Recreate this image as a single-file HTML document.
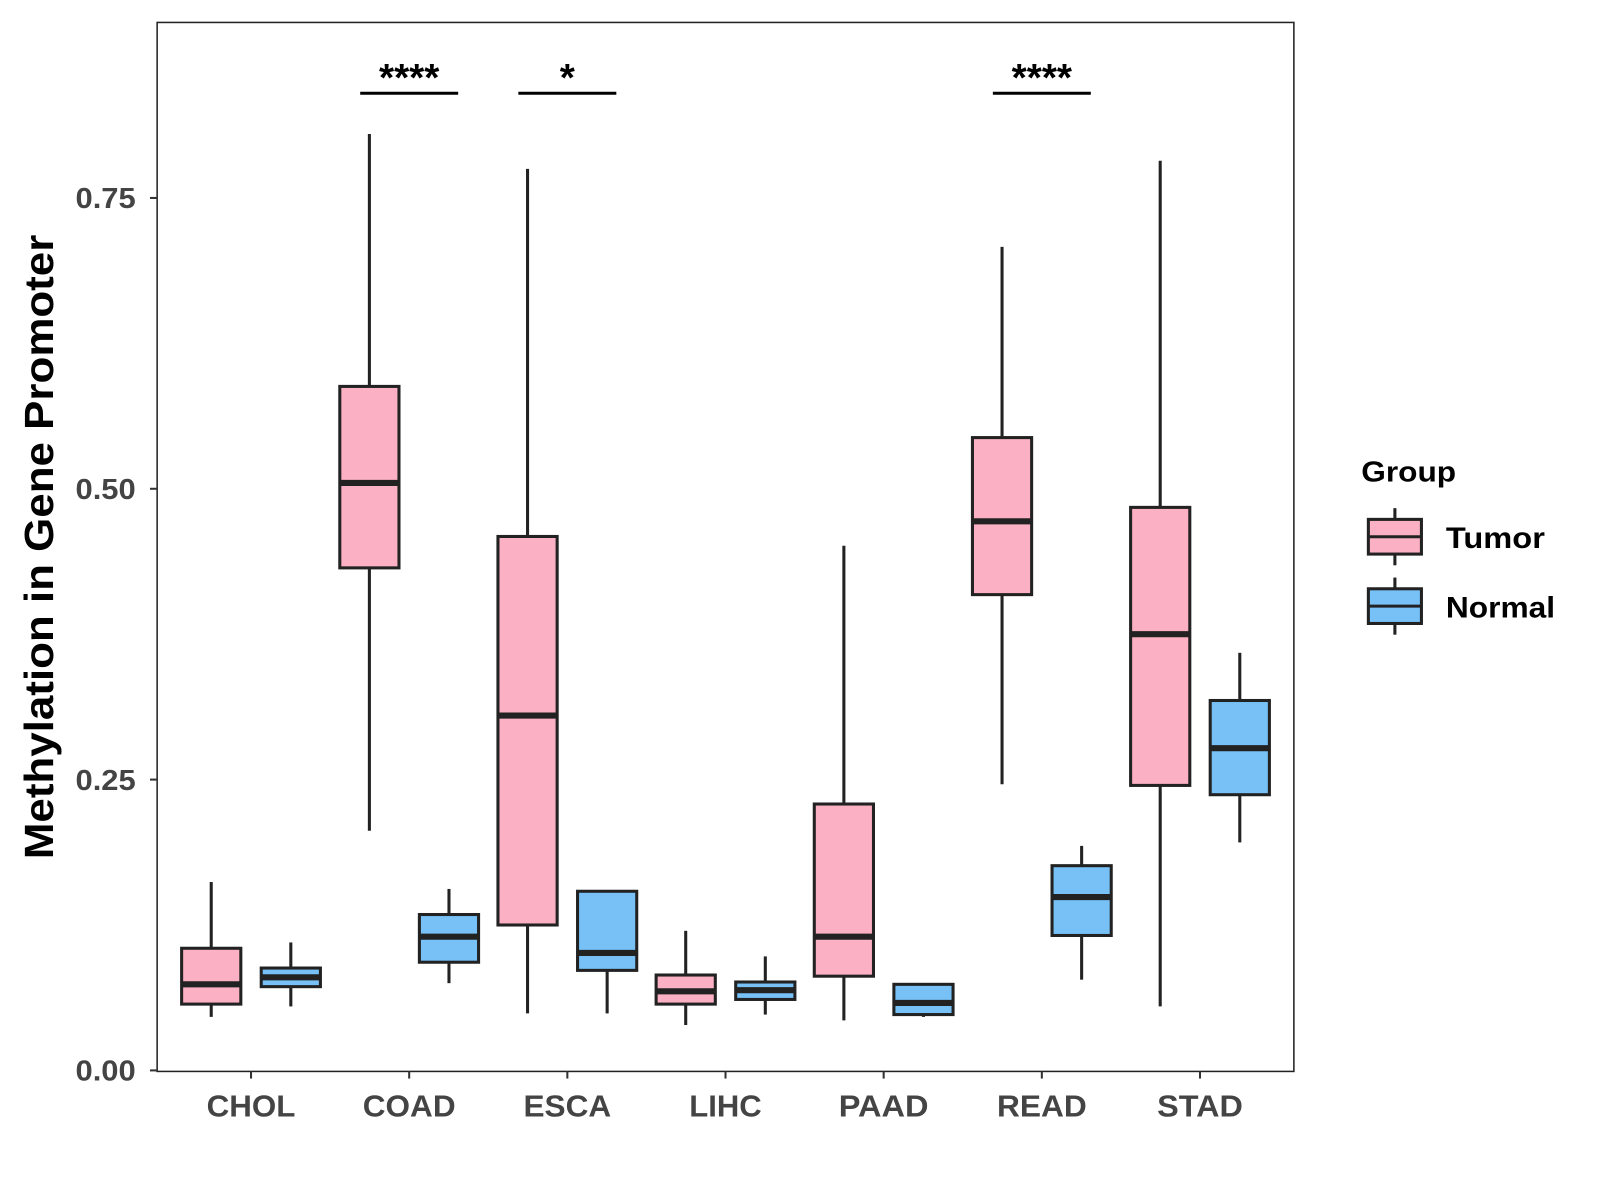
<!DOCTYPE html>
<html><head><meta charset="utf-8"><style>
html,body{margin:0;padding:0;background:#fff;}
svg{display:block;font-family:"Liberation Sans",Arial,sans-serif;}
</style></head><body>
<svg id="chart" width="1600" height="1200" viewBox="0 0 1568 1176">
<rect x="0" y="0" width="1568" height="1176" fill="#fff"/>
<g id="plot"></g>
</svg>
<script>
const categories = ["CHOL","COAD","ESCA","LIHC","PAAD","READ","STAD"];
const groups = ["Tumor","Normal"];
// [low, q1, median, q3, high]
const tumorStats = [
 [0.046,0.057,0.074,0.105,0.162],
 [0.206,0.432,0.505,0.588,0.805],
 [0.049,0.125,0.305,0.459,0.775],
 [0.039,0.057,0.068,0.082,0.120],
 [0.043,0.081,0.115,0.229,0.451],
 [0.246,0.409,0.472,0.544,0.708],
 [0.055,0.245,0.375,0.484,0.782]
];
const normalStats = [
 [0.055,0.072,0.080,0.088,0.110],
 [0.075,0.093,0.115,0.134,0.156],
 [0.049,0.086,0.101,0.154,0.154],
 [0.048,0.061,0.069,0.076,0.098],
 [0.046,0.048,0.058,0.074,0.074],
 [0.078,0.116,0.149,0.176,0.193],
 [0.196,0.237,0.277,0.318,0.359]
];
const yTicks = [0,0.25,0.5,0.75];
const yTickLabels = ["0.00","0.25","0.50","0.75"];
const sigCategories = ["COAD","ESCA","READ"];
const sigLabels = ["****","*","****"];
const sigLevel = 0.840;

const NS="http://www.w3.org/2000/svg";
const g=document.getElementById('plot');
function el(t,a,txt){const e=document.createElementNS(NS,t);for(const k in a)e.setAttribute(k,a[k]);if(txt!=null)e.textContent=txt;g.appendChild(e);return e;}
const L=154,R=1268,T=22,B=1050;
const y0=1049, pxPerUnit=1140;
const yScale=v=>y0-v*pxPerUnit;
const xScale=i=>246+i*155;
const colors={Tumor:"#FBB1C3",Normal:"#77C1F7"};
const bw=58, off=39;

let e=el('rect',{x:L,y:T,width:R-L,height:B-T,fill:'none',stroke:'#222','stroke-width':1.5});


yTicks.forEach((v,i)=>{
 const y=yScale(v);
 let t=el('line',{x1:L-7,x2:L,y1:y,y2:y,stroke:'#333','stroke-width':2});
 
 let l=el('text',{x:74,y:y+10,'font-size':28,'font-weight':'bold',fill:'#444',textLength:59,lengthAdjust:'spacingAndGlyphs'},yTickLabels[i]);
 
});
const xLabelW=[87,91,86,71,88,88,84];
categories.forEach((c,i)=>{
 const x=xScale(i);
 let t=el('line',{x1:x,x2:x,y1:B,y2:B+7,stroke:'#333','stroke-width':2});
 
 let l=el('text',{x:x-xLabelW[i]/2,y:B+44,'font-size':30,'font-weight':'bold',fill:'#444',textLength:xLabelW[i],lengthAdjust:'spacingAndGlyphs'},c);
 
});

function drawBox(s,cx,fill,name){
 const [lo,q1,md,q3,hi]=s;
 let w1=el('line',{x1:cx,x2:cx,y1:yScale(hi),y2:yScale(q3),stroke:'#222','stroke-width':3});
 
 let w2=el('line',{x1:cx,x2:cx,y1:yScale(q1),y2:yScale(lo),stroke:'#222','stroke-width':3});
 
 let b=el('rect',{x:cx-bw/2,y:yScale(q3),width:bw,height:Math.max(yScale(q1)-yScale(q3),0.5),fill:fill,stroke:'#222','stroke-width':3});
 
 let m=el('line',{x1:cx-bw/2,x2:cx+bw/2,y1:yScale(md),y2:yScale(md),stroke:'#222','stroke-width':6});
 
}
categories.forEach((c,i)=>{
 drawBox(tumorStats[i],xScale(i)-off,colors.Tumor,c.toLowerCase()+'-tumor');
 drawBox(normalStats[i],xScale(i)+off,colors.Normal,c.toLowerCase()+'-normal');
});
sigCategories.forEach((c,k)=>{
 const i=categories.indexOf(c), x=xScale(i), y=yScale(sigLevel);
 let ln=el('line',{x1:x-48,x2:x+48,y1:y,y2:y,stroke:'#000','stroke-width':3});
 
 let tx=el('text',{x:x,y:y-2,'text-anchor':'middle','font-size':38,'font-weight':'bold',fill:'#000'},sigLabels[k]);
 
});
let yt=el('text',{x:-306,y:0,transform:'translate(52,536) rotate(-90)','font-size':40,'font-weight':'bold',fill:'#000',textLength:612,lengthAdjust:'spacingAndGlyphs'},'Methylation in Gene Promoter');

let lt=el('text',{x:1334,y:472,'font-size':28,'font-weight':'bold',fill:'#000',textLength:93,lengthAdjust:'spacingAndGlyphs'},'Group');

const legW=[97,107];
groups.forEach((gname,k)=>{
 const yc=526+k*68, cx=1367;
 let a=el('line',{x1:cx,x2:cx,y1:yc-28,y2:yc+28,stroke:'#222','stroke-width':3});
 
 let r=el('rect',{x:cx-26,y:yc-17,width:52,height:34,fill:colors[gname],stroke:'#222','stroke-width':3});
 
 let m=el('line',{x1:cx-26,x2:cx+26,y1:yc,y2:yc,stroke:'#222','stroke-width':3});
 
 let t=el('text',{x:1417,y:yc+11,'font-size':29,'font-weight':'bold',fill:'#000',textLength:legW[k],lengthAdjust:'spacingAndGlyphs'},gname);
 
});
</script>
</body></html>
